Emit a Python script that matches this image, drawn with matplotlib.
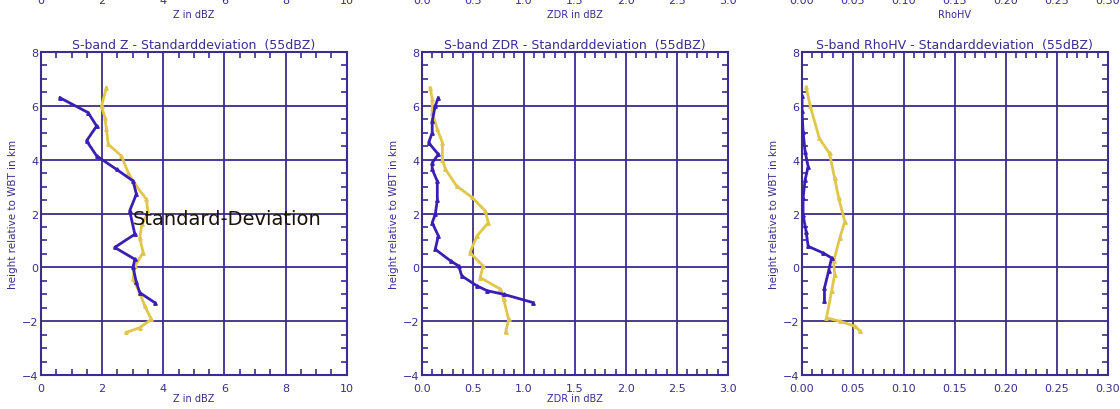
import numpy as np
import matplotlib.pyplot as plt
from matplotlib.ticker import MultipleLocator

# --- data (x value, height relative to WBT in km) ---
z_blue_x = [0.62, 1.54, 1.82, 1.49, 1.82, 2.47, 3.01, 3.12, 2.90, 3.07, 2.41, 3.07, 3.01, 3.12, 3.23, 3.72]
z_blue_h = [6.30, 5.75, 5.25, 4.70, 4.14, 3.64, 3.21, 2.72, 2.10, 1.23, 0.74, 0.30, 0.00, -0.56, -0.94, -1.31]
z_yel_x = [2.14, 1.98, 2.09, 2.14, 2.20, 2.63, 2.85, 3.07, 3.45, 3.50, 3.30, 3.23, 3.34, 3.07, 3.01, 3.23, 3.39, 3.61, 3.23, 2.79]
z_yel_h = [6.68, 6.00, 5.56, 5.13, 4.57, 4.14, 3.52, 3.09, 2.53, 2.03, 1.60, 1.10, 0.55, 0.05, -0.44, -0.94, -1.43, -1.93, -2.24, -2.42]

zdr_blue_x = [0.16, 0.13, 0.10, 0.10, 0.065, 0.16, 0.10, 0.10, 0.15, 0.15, 0.13, 0.10, 0.16, 0.13, 0.28, 0.36, 0.39, 0.54, 0.64, 0.80, 1.09]
zdr_blue_h = [6.30, 6.00, 5.44, 5.00, 4.63, 4.20, 3.88, 3.64, 3.20, 2.50, 1.97, 1.66, 1.17, 0.67, 0.24, 0.05, -0.32, -0.69, -0.87, -1.00, -1.31]
zdr_yel_x = [0.08, 0.10, 0.10, 0.15, 0.20, 0.20, 0.23, 0.34, 0.49, 0.62, 0.65, 0.54, 0.47, 0.60, 0.57, 0.77, 0.80, 0.85, 0.82]
zdr_yel_h = [6.68, 6.24, 5.75, 5.13, 4.63, 4.00, 3.64, 3.02, 2.60, 2.10, 1.66, 1.17, 0.55, 0.05, -0.38, -0.81, -1.18, -1.93, -2.42]

rho_blue_x = [0.000, 0.000, 0.001, 0.003, 0.006, 0.003, 0.001, 0.001, 0.004, 0.006, 0.021, 0.029, 0.026, 0.022, 0.022]
rho_blue_h = [6.35, 5.80, 5.04, 4.30, 3.74, 3.25, 2.57, 1.95, 1.33, 0.78, 0.53, 0.35, -0.15, -0.77, -1.26]
rho_yel_x = [0.004, 0.008, 0.017, 0.027, 0.032, 0.036, 0.042, 0.037, 0.031, 0.032, 0.029, 0.024, 0.037, 0.052, 0.057]
rho_yel_h = [6.70, 6.00, 4.79, 4.23, 3.31, 2.57, 1.70, 1.09, 0.22, -0.27, -0.89, -1.88, -2.00, -2.19, -2.37]

titles = ['S-band Z - Standarddeviation  (55dBZ)',
          'S-band ZDR - Standarddeviation  (55dBZ)',
          'S-band RhoHV - Standarddeviation  (55dBZ)']
xlabels = ['Z in dBZ', 'ZDR in dBZ', 'RhoHV']
xmax = [10, 3.0, 0.30]
xmajor = [2, 0.5, 0.05]
xminor = [0.5, 0.1, 0.01]
xfmt = ['{:.0f}', '{:.1f}', '{:.2f}']

frame = '#3b2c8e'
blue = '#3a1fb4'
yellow = '#e0c64c'

fig = plt.figure(figsize=(11.2, 4.1), dpi=100)
lefts = [0.0366, 0.3768, 0.7161]
width = 0.273

series = [(z_blue_x, z_blue_h, z_yel_x, z_yel_h),
          (zdr_blue_x, zdr_blue_h, zdr_yel_x, zdr_yel_h),
          (rho_blue_x, rho_blue_h, rho_yel_x, rho_yel_h)]

for i, (l, (bx, bh, yx, yh)) in enumerate(zip(lefts, series)):
    ax = fig.add_axes([l, 0.0829, width, 0.7878])
    ax.plot(yx, yh, color=yellow, lw=2, marker='^', ms=2.5, zorder=3)
    ax.plot(bx, bh, color=blue, lw=2, marker='^', ms=2.5, zorder=4)
    ax.set_xlim(0, xmax[i])
    ax.set_ylim(-4, 8)
    ax.xaxis.set_minor_locator(MultipleLocator(xminor[i]))
    ax.yaxis.set_major_locator(MultipleLocator(2))
    ax.yaxis.set_minor_locator(MultipleLocator(0.5))
    ticks = np.arange(0, xmax[i] + xmajor[i] / 2, xmajor[i])
    ax.set_xticks(ticks)
    ax.set_xticklabels([xfmt[i].format(t) for t in ticks])
    ax.grid(True, which='major', color=frame, lw=1.3)
    ax.tick_params(which='both', direction='in', top=True, right=True,
                   colors=frame, labelcolor=frame, labelsize=8, width=1.2)
    ax.tick_params(which='major', length=0)
    ax.tick_params(axis='x', which='major', pad=6)
    ax.tick_params(axis='y', which='major', pad=2)
    ax.tick_params(which='minor', length=4.5)
    for s in ax.spines.values():
        s.set_color(frame)
        s.set_linewidth(1.5)
    ax.set_title(titles[i], color=frame, fontsize=9, pad=3)
    ax.set_ylabel('height relative to WBT in km', color=frame, fontsize=7.5, labelpad=3)
    if i < 2:
        ax.set_xlabel(xlabels[i], color=frame, fontsize=7, labelpad=0)
    # partially cut-off labels of the panel above
    fig.text(l + width / 2, 0.963, xlabels[i], color=frame, fontsize=7, ha='center', va='center')
    for t in ticks:
        xf = l + width * t / xmax[i]
        fig.text(xf, 0.997, xfmt[i].format(t), color=frame, fontsize=8, ha='center', va='center')
    if i == 0:
        ax.text(3.0, 1.8, 'Standard-Deviation', color='#1a1208', fontsize=14,
                va='center', ha='left', zorder=6)

fig.savefig('out.png', dpi=100)
